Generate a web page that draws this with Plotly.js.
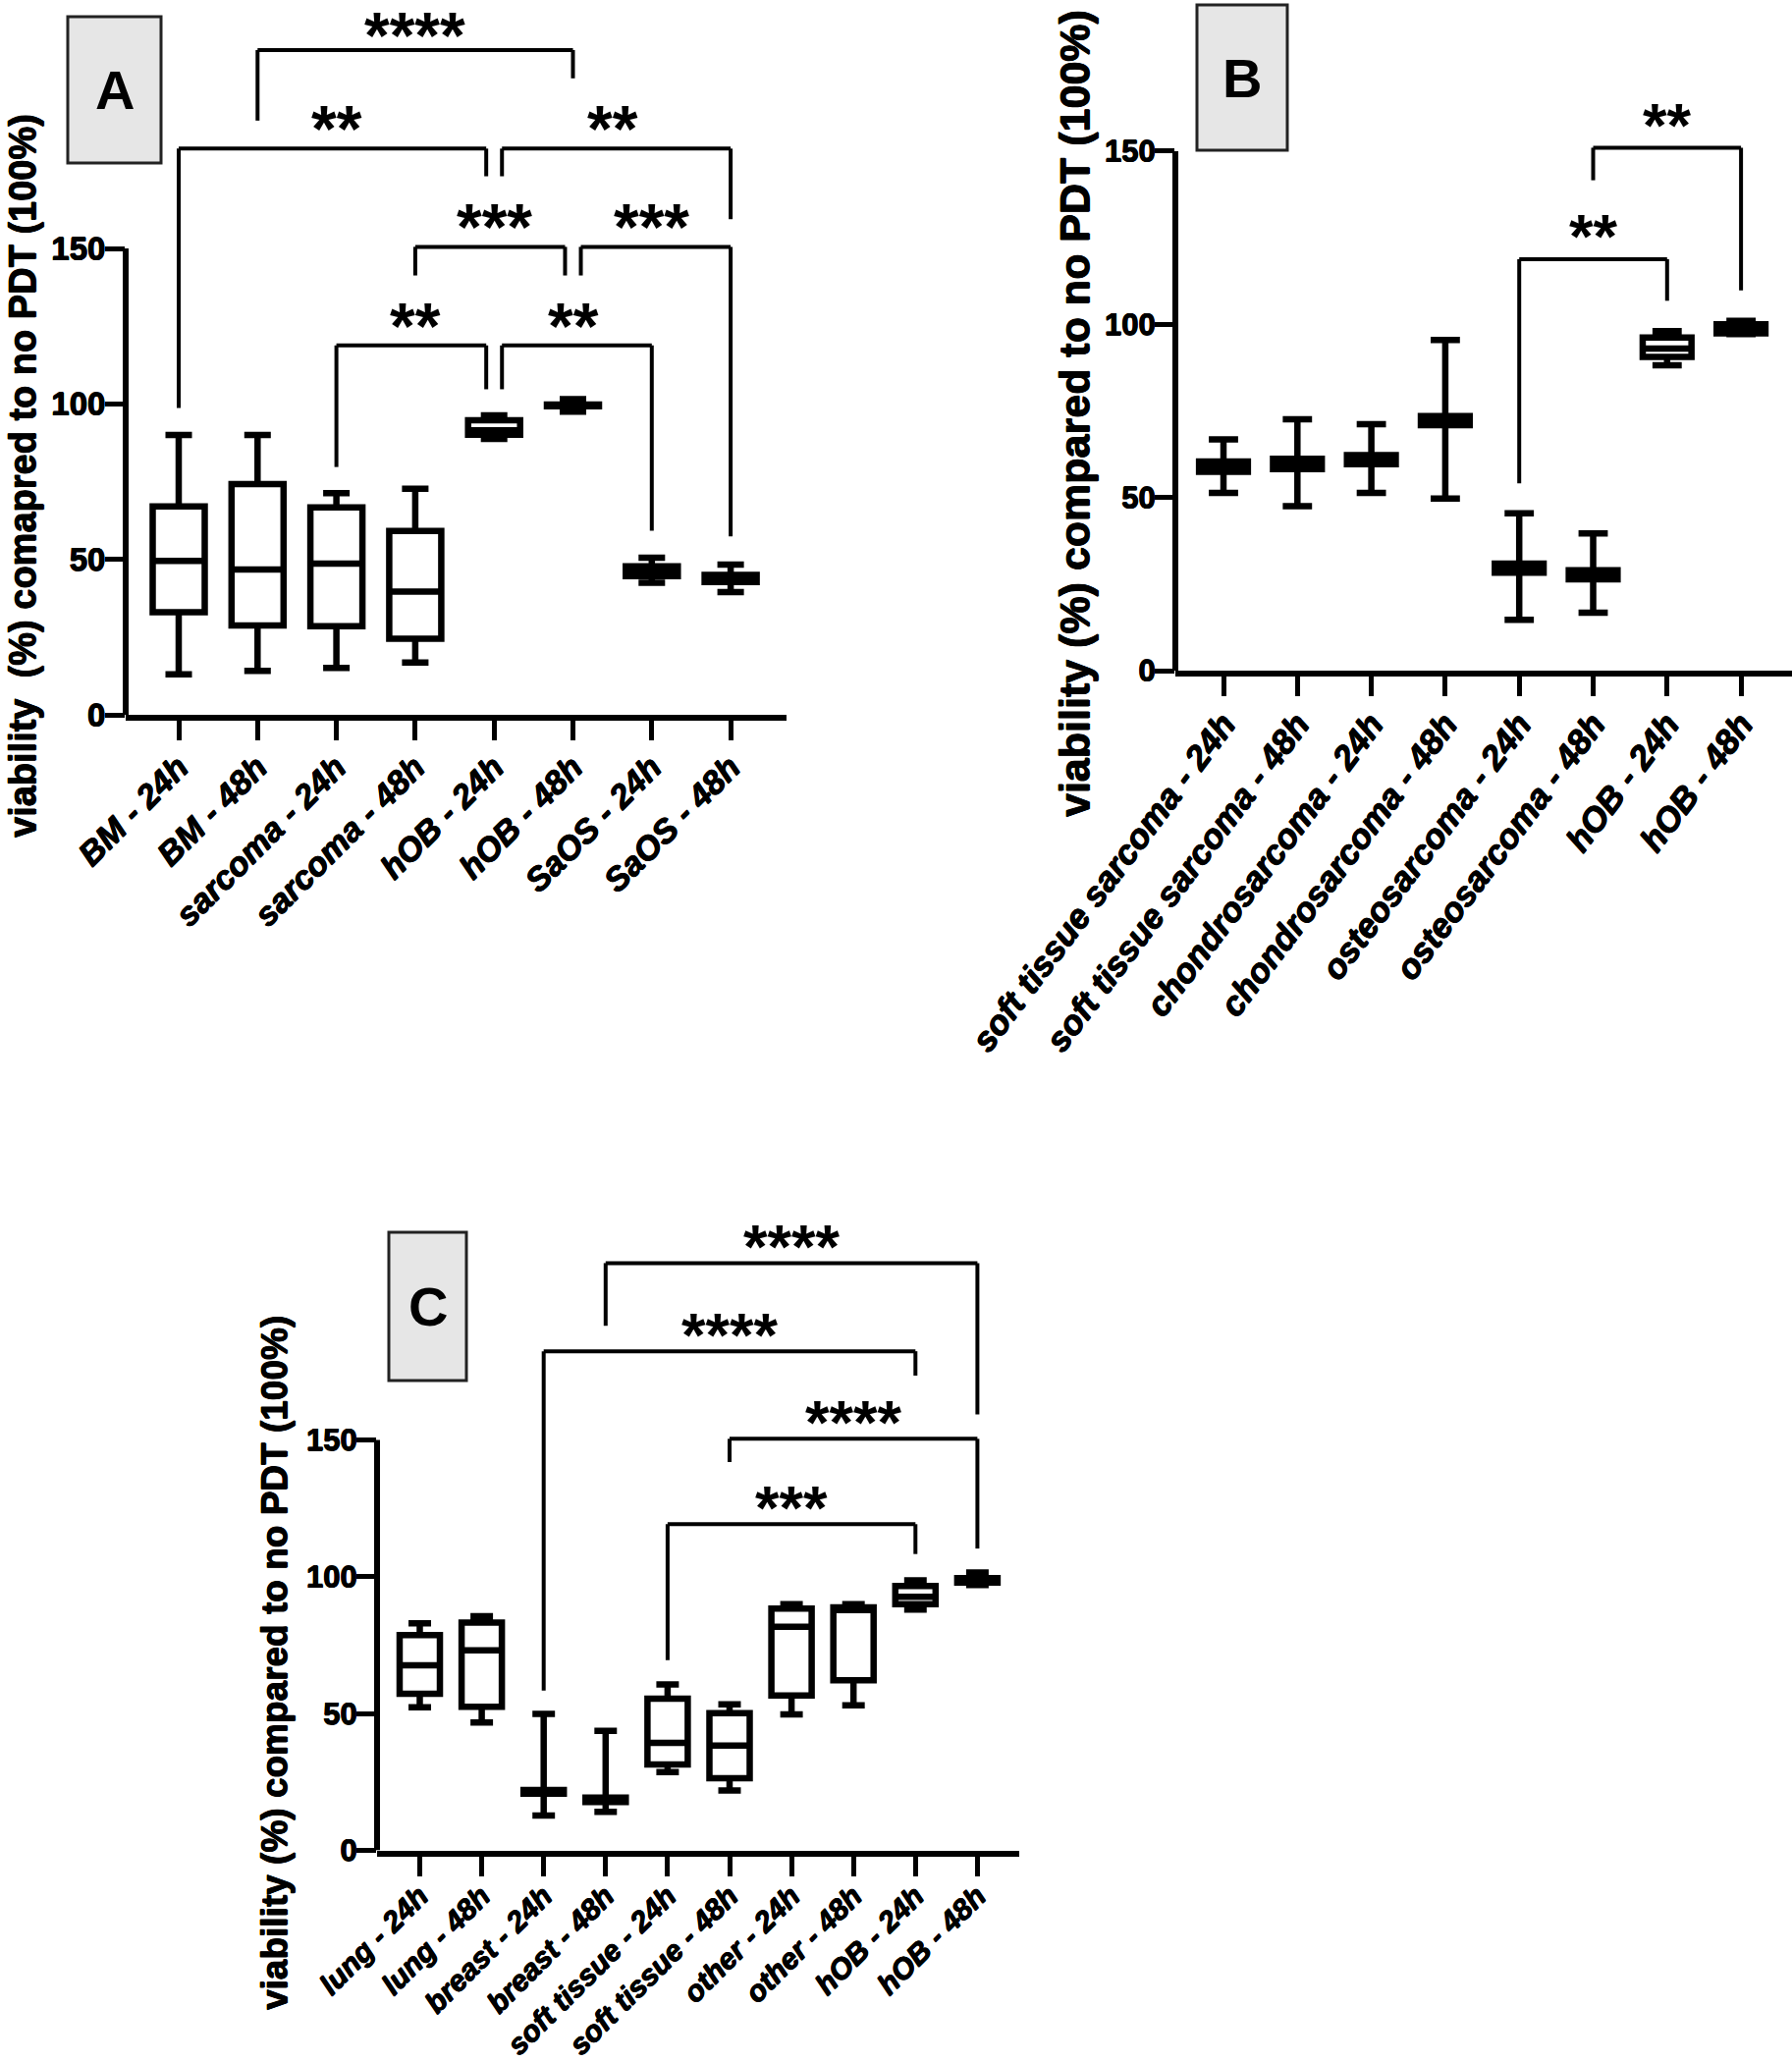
<!DOCTYPE html>
<html>
<head>
<meta charset="utf-8">
<script src="https://cdn.plot.ly/plotly-3.0.1.min.js"></script>
<style>html,body{margin:0;padding:0;background:#fff}</style>
</head>
<body>
<div id="chart" style="width:1825px;height:2099px"></div>
<script>
// ---------------- Panel A data ----------------
const catsA = ['BM - 24h', 'BM - 48h', 'sarcoma - 24h', 'sarcoma - 48h', 'hOB - 24h', 'hOB - 48h', 'SaOS - 24h', 'SaOS - 48h'];
const lowA  = [13.0, 14.1, 15.1, 16.8, 88.7, 97.5, 42.5, 39.5];
const q1A   = [33.0, 28.7, 28.5, 24.5, 90.1, 99.2, 44.6, 42.7];
const medA  = [49.5, 46.7, 48.6, 39.6, 91.5, 99.5, 46.2, 43.8];
const q3A   = [67.0, 74.2, 66.7, 59.1, 94.7, 99.8, 47.8, 45.0];
const highA = [90.0, 90.0, 71.3, 72.7, 96.3, 101.5, 50.5, 48.3];

// ---------------- Panel B data ----------------
const catsB = ['soft tissue sarcoma - 24h', 'soft tissue sarcoma - 48h', 'chondrosarcoma - 24h', 'chondrosarcoma - 48h', 'osteosarcoma - 24h', 'osteosarcoma - 48h', 'hOB - 24h', 'hOB - 48h'];
const lowB  = [51.3, 47.5, 51.3, 49.7, 14.7, 16.7, 88.2, 97.2];
const q1B   = [57.4, 58.2, 59.6, 70.9, 28.3, 26.4, 90.6, 97.4];
const medB  = [58.9, 59.7, 60.9, 72.2, 29.6, 27.7, 93.0, 98.7];
const q3B   = [60.4, 61.2, 62.2, 73.5, 30.9, 29.0, 96.2, 100.0];
const highB = [66.8, 72.6, 71.2, 95.5, 45.4, 39.6, 98.0, 101.0];

// ---------------- Panel C data ----------------
const catsC = ['lung - 24h', 'lung - 48h', 'breast - 24h', 'breast - 48h', 'soft tissue - 24h', 'soft tissue - 48h', 'other - 24h', 'other - 48h', 'hOB - 24h', 'hOB - 48h'];
const lowC  = [52.3, 46.7, 12.7, 14.1, 28.6, 21.9, 49.7, 53.0, 88.0, 97.0];
const q1C   = [57.2, 52.5, 20.7, 17.7, 31.4, 26.4, 56.6, 62.2, 90.0, 97.9];
const medC  = [67.6, 73.1, 21.4, 18.5, 39.3, 38.3, 81.7, 87.8, 92.7, 98.7];
const q3C   = [78.7, 83.2, 22.1, 19.3, 55.4, 50.1, 88.4, 88.8, 96.6, 99.5];
const highC = [83.0, 85.6, 49.9, 43.7, 60.6, 53.4, 90.0, 90.0, 98.7, 101.5];

// y tick values (shared)
const yTicks = [0, 50, 100, 150];

// Significance brackets: [left category, right category, bar level, left foot, right foot, label]
const sigA = [
  ['BM - 48h', 'hOB - 48h', 213.8, 191.1, 204.7, '****'],
  ['BM - 24h', 'hOB - 24h', 182.1, 98.7, 173.2, '**'],
  ['hOB - 24h', 'SaOS - 48h', 182.1, 173.2, 159.4, '**'],
  ['sarcoma - 48h', 'hOB - 48h', 150.5, 141.3, 141.3, '***'],
  ['hOB - 48h', 'SaOS - 48h', 150.5, 141.3, 57.4, '***'],
  ['sarcoma - 24h', 'hOB - 24h', 118.8, 79.7, 104.7, '**'],
  ['hOB - 24h', 'SaOS - 24h', 118.8, 104.7, 59.2, '**']
];
const sigB = [
  ['osteosarcoma - 48h', 'hOB - 48h', 151.0, 141.6, 109.8, '**'],
  ['osteosarcoma - 24h', 'hOB - 24h', 118.8, 54.1, 106.8, '**']
];
const sigC = [
  ['breast - 48h', 'hOB - 48h', 214.6, 191.7, 159.3, '****'],
  ['breast - 24h', 'hOB - 24h', 182.4, 58.4, 173.5, '****'],
  ['soft tissue - 48h', 'hOB - 48h', 150.4, 141.9, 110.3, '****'],
  ['soft tissue - 24h', 'hOB - 24h', 119.2, 69.5, 108.3, '***']
];

// ---------------- layout geometry (pixels) ----------------
const W = 1825, H = 2099;
const FONT = 'Liberation Sans, Arial, Helvetica, sans-serif';
const HEAVY = '0.5px 0 0 #000, -0.5px 0 0 #000, 0 0.5px 0 #000, 0 -0.5px 0 #000';

const panels = [
  {id: 'A', xa: 'x',  ya: 'y',  cats: catsA, low: lowA, q1: q1A, med: medA, q3: q3A, high: highA, sig: sigA,
   left: 128, right: 801, cat0: 182, step: 80.3, bottom: 728, top: 0, ppu: 3.1667,
   boxW: 0.66, whisk: 0.51, tickAngle: -45, xFont: 34, yFont: 33, starFont: 66, xStand: -6,
   title: 'viability  (%) comapred to no PDT (100%)', titleX: 23, titleY: 485, titleSize: 38,
   label: {x0: 69, x1: 164, y0: 17, y1: 166}},
  {id: 'B', xa: 'x2', ya: 'y2', cats: catsB, low: lowB, q1: q1B, med: medB, q3: q3B, high: highB, sig: sigB,
   left: 1197, right: 1825, cat0: 1246, step: 75.3, bottom: 683, top: 0, ppu: 3.527,
   boxW: 0.66, whisk: 0.6, tickAngle: -53, xFont: 35, yFont: 31, starFont: 63, xStand: -6,
   title: 'viability (%) compared to no PDT (100%)', titleX: 1094, titleY: 421, titleSize: 43,
   label: {x0: 1219, x1: 1311, y0: 5, y1: 153}},
  {id: 'C', xa: 'x3', ya: 'y3', cats: catsC, low: lowC, q1: q1C, med: medC, q3: q3C, high: highC, sig: sigC,
   left: 384, right: 1038, cat0: 427.5, step: 63.1, bottom: 1884.5, top: 1230, ppu: 2.787,
   boxW: 0.65, whisk: 0.56, tickAngle: -45, xFont: 30, yFont: 31, starFont: 63, xStand: -9,
   title: 'viability (%) compared to no PDT (100%)', titleX: 279, titleY: 1694, titleSize: 37,
   label: {x0: 396, x1: 475, y0: 1255, y1: 1406}}
];

const traces = [];
const shapes = [];
const annotations = [];
const layout = {
  width: W, height: H,
  margin: {l: 0, r: 0, t: 0, b: 0},
  paper_bgcolor: '#ffffff', plot_bgcolor: 'rgba(0,0,0,0)',
  showlegend: false, hovermode: false,
  font: {family: FONT, color: '#000'}
};

panels.forEach(p => {
  const xKey = 'xaxis' + (p.xa === 'x' ? '' : p.xa.slice(1));
  const yKey = 'yaxis' + (p.ya === 'y' ? '' : p.ya.slice(1));
  layout[xKey] = {
    type: 'category', categoryorder: 'array', categoryarray: p.cats,
    domain: [p.left / W, p.right / W], anchor: p.ya,
    range: [(p.left - p.cat0) / p.step, (p.right - p.cat0) / p.step],
    showline: true, linewidth: 6, linecolor: '#000',
    ticks: 'outside', ticklen: 20, tickwidth: 5, tickcolor: '#000',
    tickangle: p.tickAngle, ticklabelstandoff: p.xStand,
    tickfont: {family: FONT, size: p.xFont, color: '#000', weight: 'bold', style: 'italic', shadow: HEAVY},
    showgrid: false, zeroline: false, fixedrange: true
  };
  layout[yKey] = {
    domain: [1 - p.bottom / H, 1 - p.top / H], anchor: p.xa,
    range: [0, (p.bottom - p.top) / p.ppu],
    tickvals: yTicks, ticktext: yTicks.map(String),
    showline: false, ticks: 'outside', ticklen: 20, tickwidth: 5, tickcolor: '#000',
    ticklabelstandoff: -7,
    tickfont: {family: FONT, size: p.yFont, color: '#000', weight: 'bold', shadow: HEAVY},
    showgrid: false, zeroline: false, fixedrange: true
  };

  traces.push({
    type: 'box', xaxis: p.xa, yaxis: p.ya,
    x: p.cats, q1: p.q1, median: p.med, q3: p.q3, lowerfence: p.low, upperfence: p.high,
    width: p.boxW, whiskerwidth: p.whisk,
    fillcolor: '#ffffff', line: {color: '#000', width: 6.5},
    boxpoints: false, hoverinfo: 'skip', name: 'Panel ' + p.id
  });

  // y-axis spine drawn only from 0 to 150
  shapes.push({type: 'line', xref: 'paper', yref: p.ya, x0: p.left / W, x1: p.left / W,
    y0: yTicks[0], y1: yTicks[yTicks.length - 1], line: {color: '#000', width: 6}});

  // significance brackets
  const idx = c => p.cats.indexOf(c);
  p.sig.forEach(s => {
    let xl = idx(s[0]), xr = idx(s[1]);
    // legs that share a category and level with another bracket are nudged apart
    const shared = (c, side) => {
      const same = p.sig.filter(t => (t[0] === c || t[1] === c) && Math.abs(t[2] - s[2]) < 1);
      return same.length > 1 ? side * 0.1 : 0;
    };
    xl += shared(s[0], 1);
    xr += shared(s[1], -1);
    const ln = {color: '#000', width: 4};
    shapes.push({type: 'line', xref: p.xa, yref: p.ya, x0: xl, x1: xr, y0: s[2], y1: s[2], line: ln});
    shapes.push({type: 'line', xref: p.xa, yref: p.ya, x0: xl, x1: xl, y0: s[2], y1: s[3], line: ln});
    shapes.push({type: 'line', xref: p.xa, yref: p.ya, x0: xr, x1: xr, y0: s[2], y1: s[4], line: ln});
    // keep the star text inside the page when it sits close to the top edge
    const starPx = p.bottom - (s[2] + 9) * p.ppu;
    const edgeNudge = starPx < 30 ? -5 : 0;
    annotations.push({xref: p.xa, yref: p.ya, x: (idx(s[0]) + idx(s[1])) / 2, y: s[2] + 9,
      text: s[5], showarrow: false, xanchor: 'center', yanchor: 'middle',
      yshift: -0.22 * p.starFont + 6 + edgeNudge,
      font: {family: FONT, size: p.starFont, color: '#000', weight: 'bold'}});
  });

  // panel letter box
  shapes.push({type: 'rect', xref: 'paper', yref: 'paper',
    x0: p.label.x0 / W, x1: p.label.x1 / W, y0: 1 - p.label.y1 / H, y1: 1 - p.label.y0 / H,
    fillcolor: '#e6e6e6', line: {color: '#222', width: 3}});
  annotations.push({xref: 'paper', yref: 'paper',
    x: (p.label.x0 + p.label.x1) / 2 / W, y: 1 - (p.label.y0 + p.label.y1) / 2 / H,
    text: p.id, showarrow: false, xanchor: 'center', yanchor: 'middle',
    font: {family: FONT, size: 56, color: '#000', weight: 'bold'}});

  // y-axis title
  annotations.push({xref: 'paper', yref: 'paper', x: p.titleX / W, y: 1 - p.titleY / H,
    text: p.title, textangle: -90, showarrow: false, xanchor: 'center', yanchor: 'middle',
    font: {family: FONT, size: p.titleSize, color: '#000', weight: 'bold', shadow: HEAVY}});
});

layout.shapes = shapes;
layout.annotations = annotations;

Plotly.newPlot('chart', traces, layout, {staticPlot: true, displayModeBar: false});
</script>
</body>
</html>
